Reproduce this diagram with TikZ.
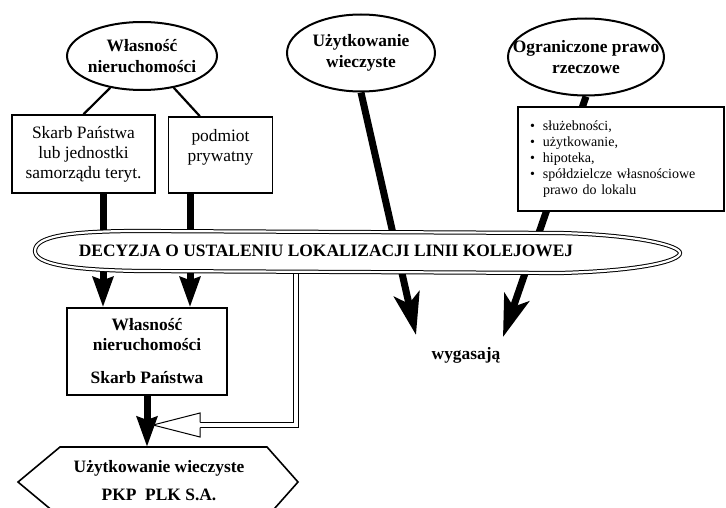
\documentclass[tikz,border=0pt]{standalone}
\usepackage{fontspec}
\setmainfont{Liberation Serif}
\usetikzlibrary{shapes.geometric}
\usetikzlibrary{arrows.meta}
\tikzset{>=latex}
\tikzset{
    oval/.style={ellipse, draw, line width=2pt, inner sep=0pt},
    ovaltext/.style={align=center, font=\fontsize{17.4}{21}\selectfont\bfseries},
    box/.style={rectangle, draw, line width=1.5pt, inner sep=0pt, fill=white, align=center, font=\fontsize{17.4}{20}\selectfont},
    boldtext/.style={align=center, font=\fontsize{17.4}{21}\selectfont\bfseries},
    fat/.style={line width=7pt, -{Stealth[length=30pt, width=20pt, inset=3pt]}},
    fatter/.style={line width=7pt, -{Stealth[length=42pt, width=26pt, inset=10pt]}},
    band/.style={double=white, double distance=2.2pt, line width=1pt, fill=white},
    hollow/.style={double=white, double distance=3.5pt, line width=0.9pt},
}
\newcommand{\pozycja}{\hspace*{4pt}\makebox[13pt][l]{\textbullet}}

\begin{document}
\begin{tikzpicture}[x=1pt, y=-1pt]
    \useasboundingbox (0,0) rectangle (726,508);
    \node[oval, minimum width=150pt, minimum height=68pt, label={[ovaltext]center:{Własność\\nieruchomości}}] (wlas) at (142,56) {};
    \node[oval, minimum width=148pt, minimum height=77pt, label={[ovaltext]center:{Użytkowanie\\wieczyste}}] (uzyt) at (361,53) {};
    \node[oval, minimum width=156pt, minimum height=77pt, label={[ovaltext]center:{Ograniczone prawo\\rzeczowe}}] (ogr) at (586,57) {};
    \node[box, minimum width=143pt, minimum height=78pt] (skarb) at (83.5,154) {Skarb Państwa\\lub jednostki\\samorządu teryt.};
    \node[box, minimum width=104pt, minimum height=76pt] (podm) at (220.5,155) {podmiot\\prywatny\\~};
    \node[box, minimum width=160pt, minimum height=87pt, font=\fontsize{17.4}{20}\selectfont\bfseries] (wlas2) at (147,351.5) {Własność\\nieruchomości\\[13pt]Skarb Państwa};
    \node[boldtext] (wyg) at (466,355) {wygasają};
    \node[boldtext] (pkp) at (159,481) {Użytkowanie wieczyste\\[7pt]PKP\ \ PLK S.A.};
    \coordinate (k1) at (103,0);
    \coordinate (k2) at (190,0);
    \coordinate (t1) at (416,335);
    \coordinate (t2) at (503,337);
    \coordinate (hx) at (147,447);
    \coordinate (r1) at (296,262);
    \coordinate (r2) at (200,425);
    \draw[line width=2.2pt](wlas.225)--(skarb.north);
    \draw[line width=2.2pt](wlas.-45)--(podm.118);
    \draw[fat](skarb.south -| k1)--(wlas2.north -| k1);
    \draw[fat](podm.south -| k2)--(wlas2.north -| k2);
    \draw[fatter](uzyt.south)--(t1);
    \draw[fatter](ogr.south)--(t2);
    \draw[fat](wlas2.south)--(hx);
    \node[box, minimum width=206pt, minimum height=104pt, text width=190pt, align=left, font=\fontsize{14}{16}\selectfont] (lista) at (621,159) {\pozycja służebności,\\\pozycja użytkowanie,\\\pozycja hipoteka,\\\pozycja spółdzielcze własnościowe\\\hspace*{17pt}prawo do lokalu};
    \draw[hollow](r1)|-(r2);
    \draw[band](35,251) .. controls (35,236) and (70,231) .. (140,231)--(560,233) .. controls (640,235) and (680,246) .. (680,253) .. controls (680,261) and (640,271) .. (560,273)--(140,271) .. controls (70,270) and (35,264) .. cycle;
    \node[boldtext] (decyzja) at (326,251) {DECYZJA O USTALENIU LOKALIZACJI LINII KOLEJOWEJ};
    \draw[line width=1pt, fill=white](200,422.3)--(200,413)--(153,425)--(200,437)--(200,427.7);
    \draw[line width=1.6pt](18,482)--(60,447)--(267,447)--(298,482)--(267,517)--(60,517)--cycle;
\end{tikzpicture}
\end{document}
